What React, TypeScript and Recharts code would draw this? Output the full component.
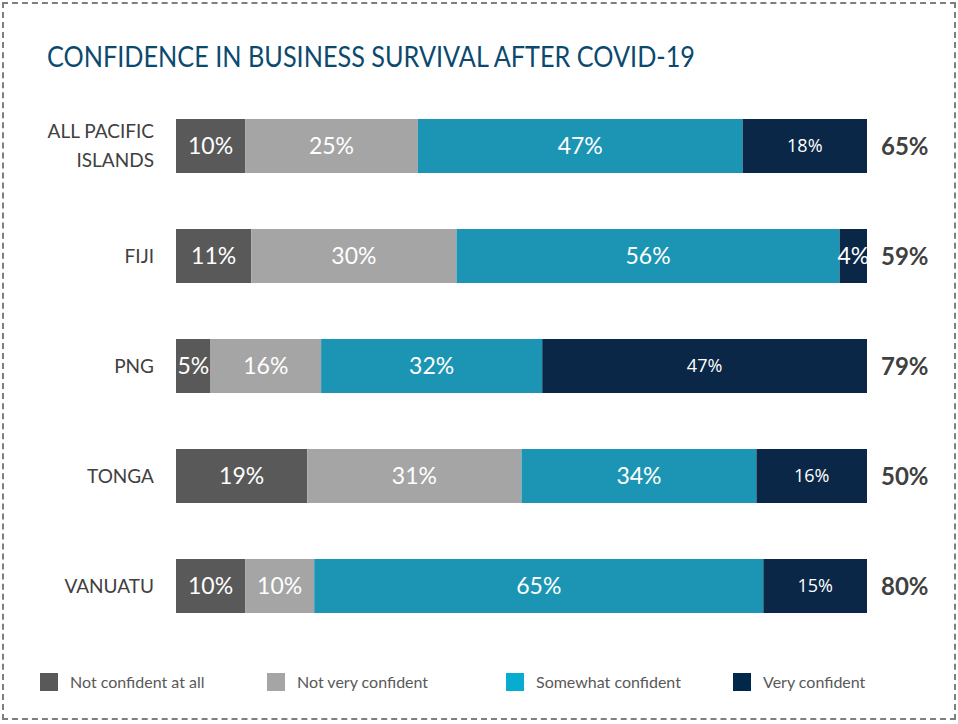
import { BarChart, Bar, XAxis, YAxis, LabelList } from 'recharts';

const regions = ['ALL PACIFIC ISLANDS', 'FIJI', 'PNG', 'TONGA', 'VANUATU'];
const notAtAll = [10, 11, 5, 19, 10];
const notVery = [25, 30, 16, 31, 10];
const somewhat = [47, 56, 32, 34, 65];
const very = [18, 4, 47, 16, 15];
const confidentTotal = [65, 59, 79, 50, 80];

const seriesNames = ['Not confident at all', 'Not very confident', 'Somewhat confident', 'Very confident'];
const barColors = ['#595959', '#a5a5a5', '#1c95b4', '#0a2747'];
const legendColors = ['#595959', '#a5a5a5', '#08accf', '#00284a'];

const data = regions.map((r, i) => ({
  region: r,
  notAtAll: notAtAll[i],
  notVery: notVery[i],
  somewhat: somewhat[i],
  very: very[i],
}));

const segFont = 'Lato, "Open Sans", sans-serif';

// navy segments use a smaller face unless the segment is too narrow
const segLabel = (vals: number[], small = false) => (p: any) => {
  const { x, y, width, height, index } = p;
  const useSmall = small && width >= 40;
  return (
    <text x={x + width / 2} y={y + height / 2} dy="0.35em" textAnchor="middle" fill="#fff"
          fontSize={useSmall ? 18 : 23}
          fontFamily={useSmall ? '"Open Sans", sans-serif' : segFont}>
      {vals[index]}%
    </text>
  );
};

const totalLabel = (p: any) => {
  const { x, y, width, height, index } = p;
  return (
    <text x={x + width + 14} y={y + height / 2} dy="0.36em" fill="#404040" fontSize={24}
          fontWeight={700} fontFamily={segFont}>
      {confidentTotal[index]}%
    </text>
  );
};

const RegionTick = (p: any) => {
  const { x, y, payload } = p;
  const label: string = payload.value;
  const lines = label === 'ALL PACIFIC ISLANDS' ? ['ALL PACIFIC', 'ISLANDS'] : [label];
  const start = -((lines.length - 1) * 29) / 2;
  return (
    <text x={x - 14} y={y} textAnchor="end" fill="#404040" fontSize={19} fontFamily={segFont}>
      {lines.map((l, i) => (
        <tspan key={l} x={x - 14} y={y + start + i * 29} dy="0.35em">{l}</tspan>
      ))}
    </text>
  );
};

export default function App() {
  return (
    <div style={{ position: 'absolute', left: 0, top: 0, width: 958, height: 724, background: '#fff' }}>
      <div style={{ position: 'absolute', left: 2, top: 2, width: 950, height: 714,
        border: '2px dashed #7f7f7f' }} />
      <svg style={{ position: 'absolute', left: 0, top: 0 }} width={958} height={100}>
        <text x={47} y={67} fill="#0b4a6e" fontSize={28} fontFamily={segFont}
              textLength={648} lengthAdjust="spacingAndGlyphs">
          CONFIDENCE IN BUSINESS SURVIVAL AFTER COVID-19
        </text>
      </svg>
      <div style={{ position: 'absolute', left: 0, top: 0 }}>
        <BarChart width={958} height={724} data={data} layout="vertical" stackOffset="expand"
                  margin={{ top: 91, right: 91, bottom: 83, left: 0 }}>
          <XAxis type="number" hide domain={[0, 1]} />
          <YAxis type="category" dataKey="region" width={176} axisLine={false} tickLine={false}
                 tick={<RegionTick />} interval={0} />
          <Bar dataKey="notAtAll" stackId="a" fill={barColors[0]} barSize={54} isAnimationActive={false}>
            <LabelList content={segLabel(notAtAll)} />
          </Bar>
          <Bar dataKey="notVery" stackId="a" fill={barColors[1]} barSize={54} isAnimationActive={false}>
            <LabelList content={segLabel(notVery)} />
          </Bar>
          <Bar dataKey="somewhat" stackId="a" fill={barColors[2]} barSize={54} isAnimationActive={false}>
            <LabelList content={segLabel(somewhat)} />
          </Bar>
          <Bar dataKey="very" stackId="a" fill={barColors[3]} barSize={54} isAnimationActive={false}>
            <LabelList content={segLabel(very, true)} />
            <LabelList content={totalLabel} />
          </Bar>
        </BarChart>
      </div>
      {seriesNames.map((n, i) => (
        <div key={n} style={{ position: 'absolute', top: 672, left: [40, 267, 506, 733][i],
          display: 'flex', alignItems: 'center', fontFamily: segFont, fontSize: 16,
          color: '#595959' }}>
          <span style={{ display: 'inline-block', width: 18, height: 18, background: legendColors[i],
            marginRight: 12 }} />
          {n}
        </div>
      ))}
    </div>
  );
}
